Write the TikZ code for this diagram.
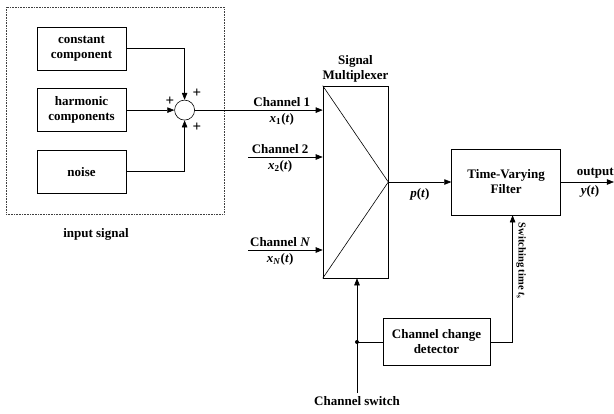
\documentclass[tikz,border=0pt]{standalone}
\usepackage{fontspec}
\setmainfont{Liberation Serif}
\usetikzlibrary{arrows.meta,calc,positioning}
\newcommand{\sigvar}[2]{\textit{#1}\textsubscript{#2}(\textit{t})}

\begin{document}
\begin{tikzpicture}[x=1pt,y=-1pt,>={Triangle[length=7pt,width=5.5pt]},semithick,
  font=\bfseries\fontsize{13}{15}\selectfont,node distance=18pt,
  blk/.style={draw,align=center,minimum width=89pt,minimum height=43pt,inner sep=2pt},
  plus/.style={font=\bfseries\fontsize{15}{15}\selectfont,inner sep=0pt}]
\useasboundingbox (0,0) rectangle (614,413);
% input signal
\node[draw,densely dotted,black!75,minimum width=218pt,minimum height=207pt] (insig) at (115,110.5) {};
\node[blk] (const) at (81.5,48.5) {constant\\component};
\node[blk,below=of const] (harm) {harmonic\\components};
\node[blk,below=of harm] (noise) {noise};
\node (insiglbl) at (96,234) {input signal};
\node[circle,draw,minimum size=20pt,inner sep=0pt,right=48pt of harm] (sum) {};
\draw[->] (const) -| (sum);
\draw[->] (harm) -- (sum);
\draw[->] (noise) -| (sum);
\node[plus] (ptop) at (197,93) {+};
\node[plus] (pleft) at (170,101) {+};
\node[plus] (pbot) at (197,127) {+};
% multiplexer
\node[draw,minimum width=65pt,minimum height=192pt] (mux) at (355.5,182) {};
\node[align=center,above=0pt of mux] (muxlbl) {Signal\\Multiplexer};
\draw (mux.north west) -- (mux.east) -- (mux.south west);
\coordinate (c2) at (248,157);
\coordinate (cN) at (248,250);
\draw[->] (sum) -- (sum -| mux.west) node[pos=0.68,above] {Channel 1} node[pos=0.68,below] {\sigvar{x}{1}};
\draw[->] (c2) -- (c2 -| mux.west) node[pos=0.43,above] {Channel 2} node[pos=0.43,below] {\sigvar{x}{2}};
\draw[->] (cN) -- (cN -| mux.west) node[pos=0.43,above] {Channel \textit{N}} node[pos=0.43,below] {\sigvar{x}{\textit{N}}};
% filter
\node[draw,align=center,minimum width=109pt,minimum height=66pt,right=63pt of mux] (filt) {Time-Varying\\Filter};
\draw[->] (mux.east) -- (filt) node[midway,below=3pt] {\textit{p}(\textit{t})};
\coordinate[right=53pt of filt.east] (out);
\draw[->] (filt) -- (out) node[pos=0.65,above] {output} node[pos=0.55,below] {\textit{y}(\textit{t})};
% channel switch and detector
\node[draw,align=center,minimum width=107pt,minimum height=47pt] (det) at (436.5,342) {Channel change\\detector};
\coordinate (jn) at (357,342);
\coordinate (sw) at (357,393);
\draw[->] (sw) -- (sw |- mux.south);
\fill (jn) circle (2pt);
\draw (jn) -- (det);
\node[below=0pt of sw] (swlbl) {Channel switch};
\coordinate (ts) at ($(filt.south)+(6.5,0)$);
\draw[->] (det.east) -| (ts) node[pos=0.82,rotate=-90,anchor=south,font=\bfseries\fontsize{10.5}{12}\selectfont] {Switching time \textit{t}\textsubscript{s}};
\end{tikzpicture}
\end{document}
